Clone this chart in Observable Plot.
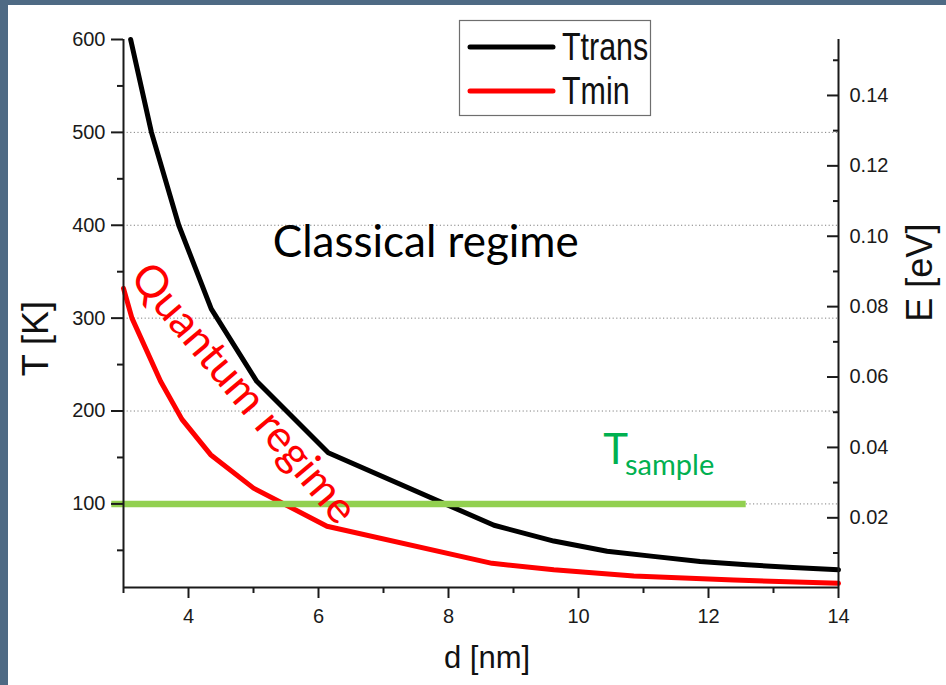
<!DOCTYPE html>
<html>
<head>
<meta charset="utf-8">
<script src="https://cdn.jsdelivr.net/npm/d3@7"></script>
<script src="https://cdn.jsdelivr.net/npm/@observablehq/plot@0.6"></script>
<style>
  html, body { margin: 0; padding: 0; }
  body { width: 946px; height: 685px; background: #4e6a84; position: relative; overflow: hidden; }
  #panel { position: absolute; left: 8px; top: 5px; width: 938px; height: 680px; background: #fff; }
  #legend { position: absolute; left: 451px; top: 15px; overflow: visible; }
</style>
</head>
<body>
<div id="panel">
  <div id="chart"></div>
  <svg id="legend" width="194" height="98" xmlns="http://www.w3.org/2000/svg"></svg>
</div>
<script>
// ---- data ----
const ttransD = [3.11, 3.43, 3.85, 4.35, 5.05, 6.15, 8.7, 9.62, 10.44, 11.15, 11.87, 12.59, 13.3, 14.0];
const ttransT = [600, 500, 400, 310, 232, 155, 77, 60, 49, 43.5, 38, 34.5, 31.5, 29];
const tminD = [3.0, 3.13, 3.57, 3.9, 4.34, 5.0, 6.13, 8.67, 9.62, 10.85, 12.39, 14.0];
const tminT = [332, 300, 232, 191, 153, 117, 76, 36, 29, 22.5, 18, 14.5];
const seriesNames = ["Ttrans", "Tmin"];
const seriesColors = ["#000000", "#ff0000"];

const tMajor = [100, 200, 300, 400, 500, 600];
const tMinor = [50, 150, 250, 350, 450, 550];
const gridT = [100, 200, 300, 400, 500];
const dMajor = [4, 6, 8, 10, 12, 14];
const dMinor = [3, 5, 7, 9, 11, 13];
const eMajor = [0.02, 0.04, 0.06, 0.08, 0.10, 0.12, 0.14];
const eMinor = [0.01, 0.03, 0.05, 0.07, 0.09, 0.11, 0.13, 0.15];
const tDomain = [10, 600];
const dDomain = [3, 14];
const eDomain = [0.0002, 0.1559];

const tSampleT = [100];
const tSampleD1 = [2.82];
const tSampleD2 = [12.58];

const annLabels = ["Classical regime", "Quantum regime"];
const annD = [7.65, 4.85];
const annT = [381, 219];

const tSampleLabelD = [10.38];
const tSampleLabelT = [143.5];
const tSampleMain = "T";
const tSampleSub = "sample";

const titleY = ["T [K]", "E [eV]"];
const titleYT = [278, 349];
const titleX = "d [nm]";

// ---- build tables ----
const rows = [
  ...ttransD.map((d, i) => ({series: seriesNames[0], d, T: ttransT[i]})),
  ...tminD.map((d, i) => ({series: seriesNames[1], d, T: tminT[i]}))
];
const eToT = e => tDomain[0] + (e - eDomain[0]) / (eDomain[1] - eDomain[0]) * (tDomain[1] - tDomain[0]);
const tToE = t => eDomain[0] + (t - tDomain[0]) / (tDomain[1] - tDomain[0]) * (eDomain[1] - eDomain[0]);
const sampleLine = tSampleT.map((T, i) => ({T, d1: tSampleD1[i], d2: tSampleD2[i]}));
const ann = annLabels.map((label, i) => ({label, d: annD[i], T: annT[i]}));
const sampleLab = tSampleLabelD.map((d, i) => ({label: tSampleMain, d, T: tSampleLabelT[i]}));

const axisColor = "#1a1a1a";
const chart = Plot.plot({
  width: 938,
  height: 680,
  marginLeft: 115,
  marginRight: 108,
  marginTop: 34,
  marginBottom: 98,
  style: {fontFamily: "'Liberation Sans', Arial, sans-serif", fontSize: "20px", color: "#1a1a1a", background: "transparent", overflow: "visible"},
  x: {domain: dDomain},
  y: {domain: tDomain},
  color: {domain: seriesNames, range: seriesColors},
  marks: [
    Plot.ruleY(gridT, {stroke: "#808080", strokeWidth: 1, strokeDasharray: "1.2,2.4"}),
    Plot.line(rows, {x: "d", y: "T", z: "series", stroke: "series", strokeWidth: 5, curve: "linear", strokeLinejoin: "round"}),
    Plot.ruleY(sampleLine, {y: "T", x1: "d1", x2: "d2", stroke: "#92d050", strokeWidth: 6.5}),
    // axis lines
    Plot.ruleX([dDomain[0], dDomain[1]], {stroke: axisColor, strokeWidth: 2}),
    Plot.ruleY([tDomain[0]], {stroke: axisColor, strokeWidth: 2}),
    // left axis
    Plot.axisY(tMajor, {anchor: "left", tickSize: 12, tickPadding: 6, strokeWidth: 2, stroke: axisColor, label: null, fontSize: 20}),
    Plot.axisY(tMinor, {anchor: "left", tickSize: 6, strokeWidth: 2, stroke: axisColor, fill: "none", label: null}),
    // bottom axis
    Plot.axisX(dMajor, {anchor: "bottom", tickSize: 11, tickPadding: 10, strokeWidth: 2, stroke: axisColor, label: null, fontSize: 20}),
    Plot.axisX(dMinor, {anchor: "bottom", tickSize: 6, strokeWidth: 2, stroke: axisColor, fill: "none", label: null}),
    // right axis (ticks point inward)
    Plot.axisY(eMajor.map(eToT), {anchor: "right", tickSize: 12, dx: -12, strokeWidth: 2, stroke: axisColor, fill: "none", label: null}),
    Plot.axisY(eMinor.map(eToT), {anchor: "right", tickSize: 6, dx: -6, strokeWidth: 2, stroke: axisColor, fill: "none", label: null}),
    Plot.axisY(eMajor.map(eToT), {anchor: "right", tickSize: 0, tickPadding: 11, label: null, fontSize: 20, tickFormat: t => tToE(t).toFixed(2)}),
    // axis titles
    Plot.text([{label: titleY[0], T: titleYT[0]}], {y: "T", text: "label", frameAnchor: "left", textAnchor: "middle", lineAnchor: "middle", rotate: -90, dx: -87, fontSize: 36, fill: "#111"}),
    Plot.text([{label: titleY[1], T: titleYT[1]}], {y: "T", text: "label", frameAnchor: "right", textAnchor: "middle", lineAnchor: "middle", rotate: -90, dx: 82, fontSize: 36, fill: "#111"}),
    Plot.text([titleX], {frameAnchor: "bottom", dx: 6, dy: 80, fontSize: 31, fill: "#111"}),
    // annotations
    Plot.text(ann, {x: "d", y: "T", text: "label", fontFamily: "Lato, 'Open Sans', sans-serif", fontSize: 44,
      fill: (d, i) => i === 0 ? "black" : "red", rotate: (d, i) => i === 0 ? 0 : 50}),
    Plot.text(sampleLab, {x: "d", y: "T", text: "label", fontFamily: "Lato, 'Open Sans', sans-serif",
      fontSize: 42, fill: "#00b050", textAnchor: "start", lineAnchor: "bottom"})
  ]
});
document.getElementById("chart").appendChild(chart);

// subscript for T_sample
d3.select(chart).selectAll("text").filter(function () {
  return this.textContent === tSampleMain && d3.select(this.parentNode).attr("fill") === "#00b050";
}).each(function () {
  d3.select(this).append("tspan").attr("font-size", 29).attr("dx", -3).attr("dy", 11).text(tSampleSub);
});

// legend
const lg = d3.select("#legend");
lg.append("rect").attr("x", 0.5).attr("y", 0.5).attr("width", 191).attr("height", 95).attr("fill", "#fff").attr("stroke", "#6e6e6e").attr("stroke-width", 1.2);
seriesNames.forEach((name, i) => {
  const y = 27 + i * 44;
  lg.append("line").attr("x1", 11).attr("x2", 94).attr("y1", y).attr("y2", y)
    .attr("stroke", seriesColors[i]).attr("stroke-width", 5).attr("stroke-linecap", "round");
  lg.append("text").attr("transform", `translate(103,${y + 12.5}) scale(0.8,1)`).text(name)
    .attr("font-family", "'Liberation Sans', Arial, sans-serif")
    .attr("font-size", 38).attr("fill", "#111");
});
</script>
</body>
</html>
